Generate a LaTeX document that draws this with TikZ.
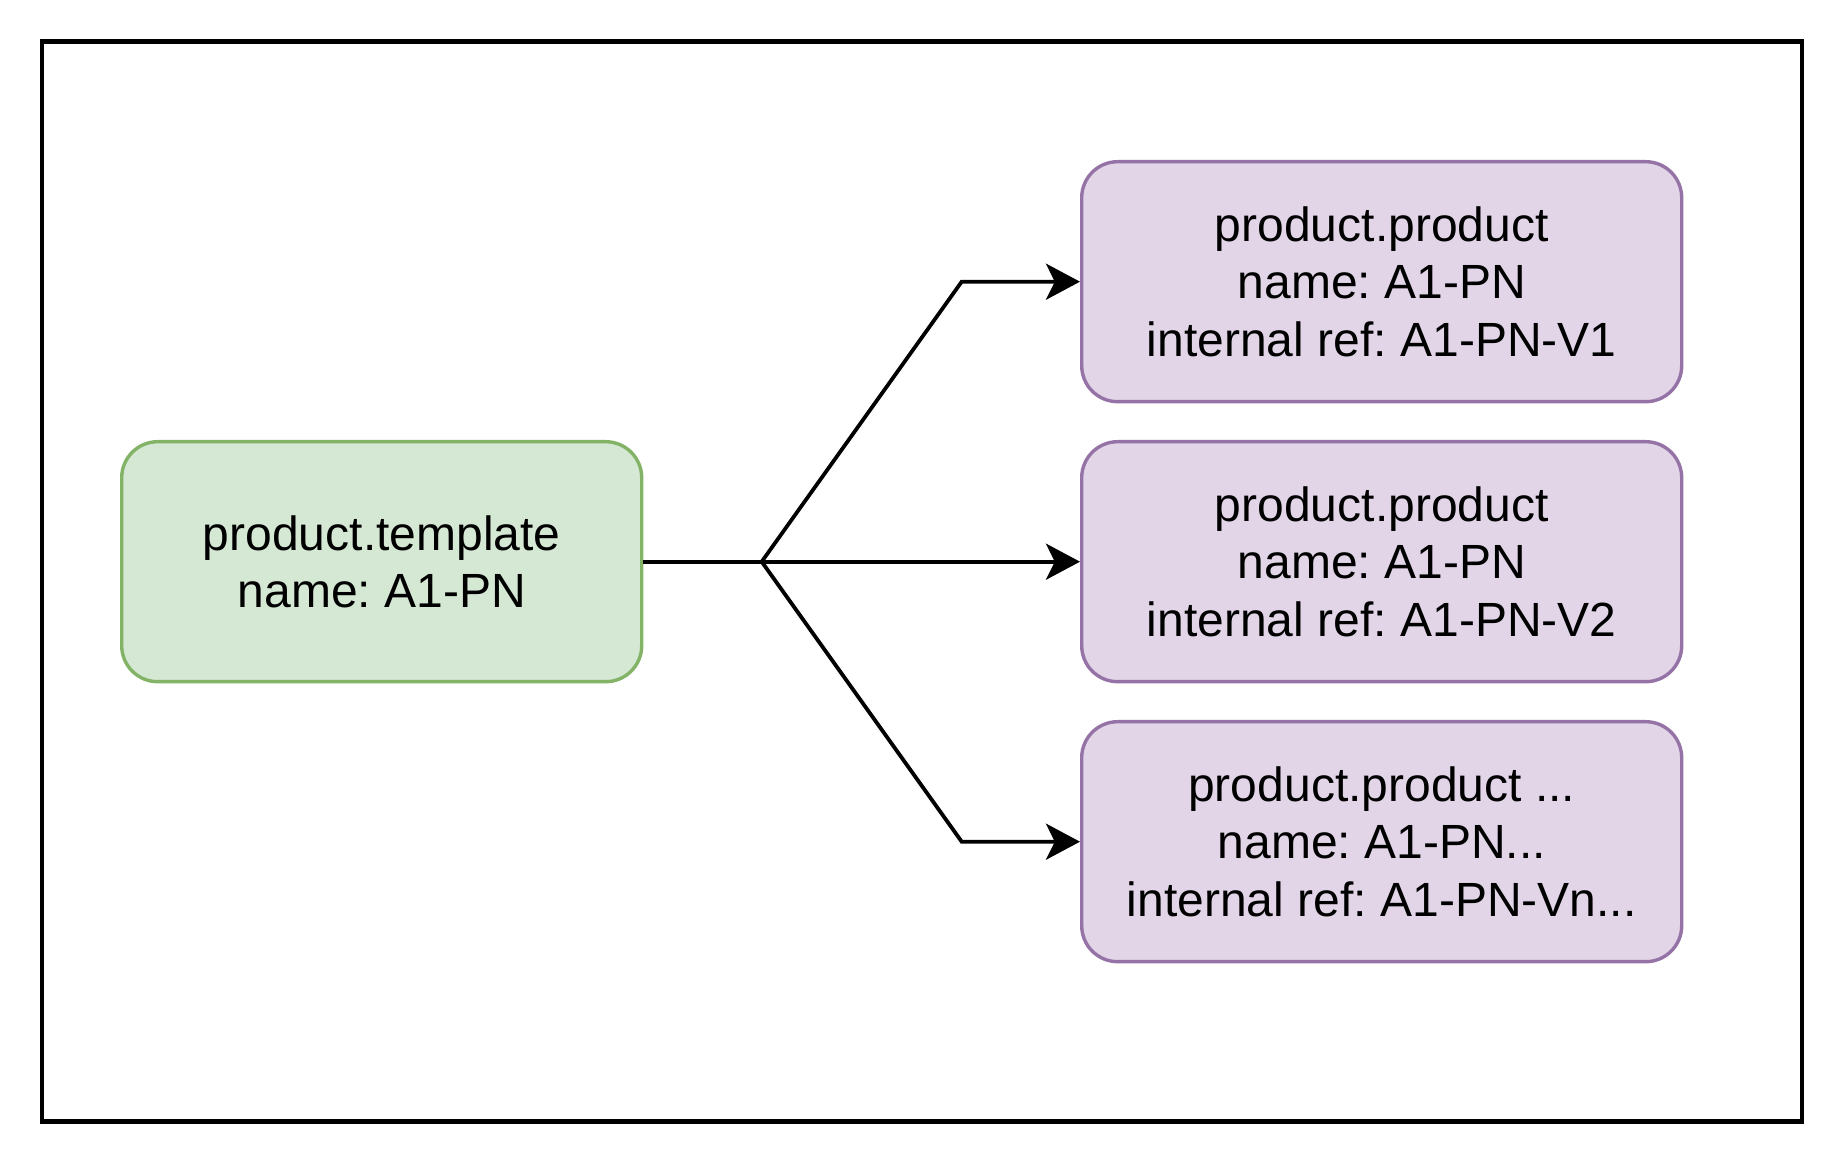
\documentclass[tikz,border=0pt]{standalone}
\usepackage{fontspec}
\setmainfont{Liberation Sans}
\usetikzlibrary{arrows.meta}
\definecolor{gfill}{HTML}{D5E8D4}
\definecolor{gline}{HTML}{82B366}
\definecolor{pfill}{HTML}{E1D5E7}
\definecolor{pline}{HTML}{9673A6}
\frenchspacing
\begin{document}
\begin{tikzpicture}[x=0.25pt,y=-0.25pt,
  box/.style={draw, rounded corners=9pt, line width=0.85pt, minimum height=60pt,
    inner sep=0pt, align=center, font=\fontsize{12}{14.4}\selectfont},
  tmpl/.style={box, fill=gfill, draw=gline, minimum width=130pt},
  prod/.style={box, fill=pfill, draw=pline, minimum width=150pt},
  link/.style={line width=0.95pt, line join=miter},
  conn/.style={link, -{Stealth[length=8.5pt,width=9pt,inset=2.2pt]}}
]
\useasboundingbox (0,0) rectangle (1844,1164);
\draw[line width=1.1pt] (41.7,41.7) rectangle (1801.7,1121.7);

\node[tmpl] (t) at (381.7,561.7) {product.template\\name: A1-PN};
\node[prod] (p1) at (1381.7,281.7) {product.product\\name: A1-PN\\internal ref: A1-PN-V1};
\node[prod] (p2) at (1381.7,561.7) {product.product\\name: A1-PN\\internal ref: A1-PN-V2};
\node[prod] (p3) at (1381.7,841.7) {product.product ...\\name: A1-PN...\\internal ref: A1-PN-Vn...};

\coordinate (j) at (761.7,561.7);
\coordinate (b1) at (961.7,281.7);
\coordinate (b3) at (961.7,841.7);

\draw[link] (t.east) -- (j);
\draw[conn] (j) -- (b1) -- (p1.west);
\draw[conn] (j) -- (p2.west);
\draw[conn] (j) -- (b3) -- (p3.west);
\end{tikzpicture}
\end{document}
